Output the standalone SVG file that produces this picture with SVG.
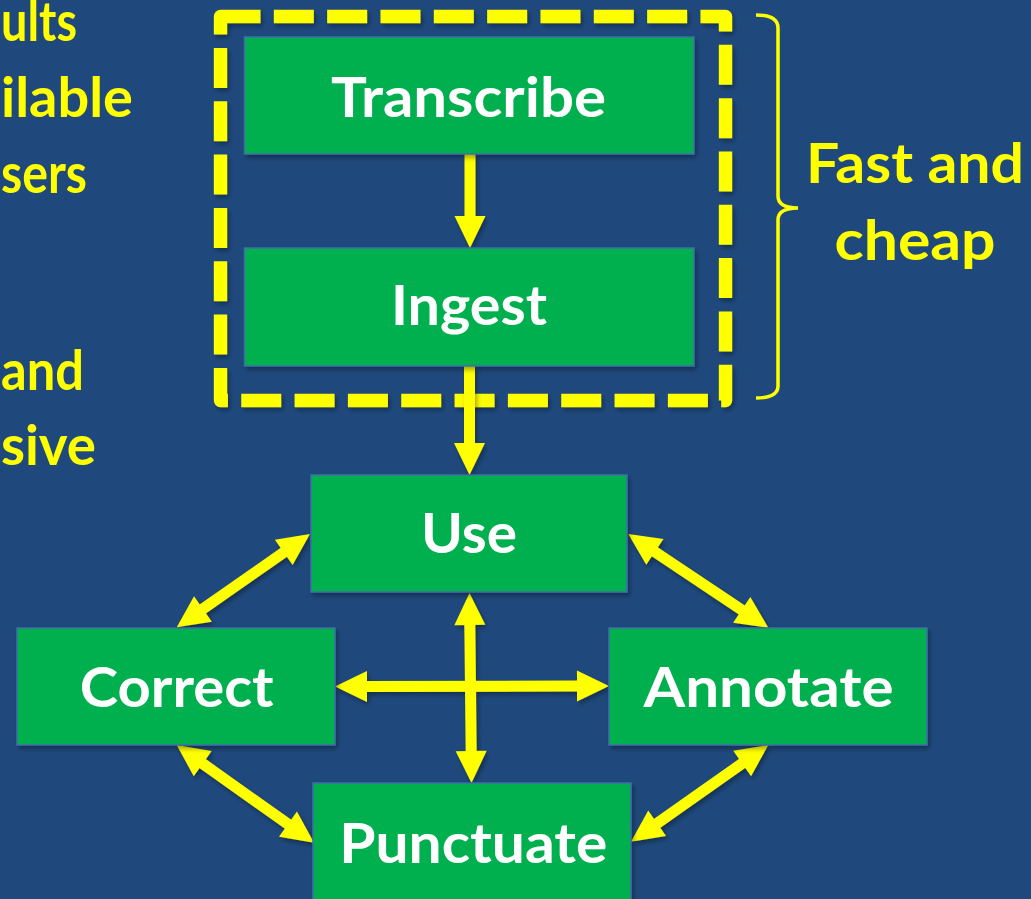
<svg xmlns="http://www.w3.org/2000/svg" width="1031" height="899" viewBox="0 0 1031 899">
  <style>
    .box { fill: #00B050; stroke: #3C6FA8; stroke-width: 1.5; }
    .lbl { font-family: Lato, "Open Sans", "Liberation Sans", sans-serif; font-weight: bold; font-size: 55px; fill: #FFFFFF; text-anchor: middle; }
    .ylw { font-family: Lato, "Open Sans", "Liberation Sans", sans-serif; font-weight: bold; font-size: 55px; fill: #FFFF00; }
    .arr { stroke: #FFFF00; stroke-width: 11; fill: none; }
  </style>
  <defs>
    <filter id="sh" x="-20%" y="-20%" width="140%" height="140%">
      <feDropShadow dx="2" dy="3" stdDeviation="2.5" flood-color="#000000" flood-opacity="0.35"/>
    </filter>
    <marker id="ah" markerUnits="userSpaceOnUse" markerWidth="32" markerHeight="31" refX="2" refY="15.5" orient="auto-start-reverse" overflow="visible">
      <path d="M0,0 L32,15.5 L0,31 Z" fill="#FFFF00"/>
    </marker>
  </defs>
  <rect x="0" y="0" width="1031" height="899" fill="#1F497D"/>

  <g id="left-text">
    <text class="ylw" x="1" y="41" textLength="76" lengthAdjust="spacingAndGlyphs">ults</text>
    <text class="ylw" x="1" y="117" textLength="132" lengthAdjust="spacingAndGlyphs">ilable</text>
    <text class="ylw" x="1" y="193" textLength="86" lengthAdjust="spacingAndGlyphs">sers</text>
    <text class="ylw" x="1" y="390" textLength="83" lengthAdjust="spacingAndGlyphs">and</text>
    <text class="ylw" x="1" y="465" textLength="95" lengthAdjust="spacingAndGlyphs">sive</text>
  </g>

  <g id="frame" filter="url(#sh)">
    <path d="M220.5,16.5 H725.5 V400.5 H220.5 Z" fill="none" stroke="#FFFF00" stroke-width="13.33" stroke-dasharray="40 13.33" stroke-linejoin="round"/>
  </g>

  <g id="brace">
    <path d="M756,15 Q778,15 778,28 V196 Q778,208 798,208 Q778,208 778,220 V386 Q778,398 756,398" fill="none" stroke="#FFFF00" stroke-width="3.5"/>
    <text class="ylw" x="915" y="183" text-anchor="middle" textLength="218" lengthAdjust="spacingAndGlyphs">Fast and</text>
    <text class="ylw" x="915" y="260" text-anchor="middle" textLength="161" lengthAdjust="spacingAndGlyphs">cheap</text>
  </g>

  <g id="connectors" filter="url(#sh)">
    <line class="arr" x1="470" y1="154" x2="470" y2="218" marker-end="url(#ah)"/>
    <line class="arr" x1="469.5" y1="366" x2="469.5" y2="445" marker-end="url(#ah)"/>
    <line class="arr" x1="469.8" y1="623" x2="471.2" y2="753" marker-start="url(#ah)" marker-end="url(#ah)"/>
    <line class="arr" x1="365" y1="686.5" x2="579" y2="686" marker-start="url(#ah)" marker-end="url(#ah)"/>
    <line class="arr" x1="285.4" y1="551.2" x2="201.3" y2="610.1" marker-start="url(#ah)" marker-end="url(#ah)"/>
    <line class="arr" x1="201.1" y1="762.4" x2="289.6" y2="825.3" marker-start="url(#ah)" marker-end="url(#ah)"/>
    <line class="arr" x1="653.2" y1="550.7" x2="743.4" y2="611" marker-start="url(#ah)" marker-end="url(#ah)"/>
    <line class="arr" x1="743.8" y1="762.3" x2="655.5" y2="824.4" marker-start="url(#ah)" marker-end="url(#ah)"/>
  </g>

  <g id="transcribe">
    <rect class="box" x="244.5" y="37" width="449.5" height="117" filter="url(#sh)"/>
    <text class="lbl" x="468.5" y="117" textLength="275" lengthAdjust="spacingAndGlyphs">Transcribe</text>
  </g>
  <g id="ingest">
    <rect class="box" x="244.5" y="248" width="449.5" height="118" filter="url(#sh)"/>
    <text class="lbl" x="469" y="325" textLength="156" lengthAdjust="spacingAndGlyphs">Ingest</text>
  </g>
  <g id="use">
    <rect class="box" x="311" y="475" width="316" height="117" filter="url(#sh)"/>
    <text class="lbl" x="469" y="553" textLength="96" lengthAdjust="spacingAndGlyphs">Use</text>
  </g>
  <g id="correct">
    <rect class="box" x="17" y="628" width="318" height="117" filter="url(#sh)"/>
    <text class="lbl" x="176.7" y="707" textLength="194" lengthAdjust="spacingAndGlyphs">Correct</text>
  </g>
  <g id="annotate">
    <rect class="box" x="609" y="628" width="318" height="117" filter="url(#sh)"/>
    <text class="lbl" x="768.5" y="707" textLength="250" lengthAdjust="spacingAndGlyphs">Annotate</text>
  </g>
  <g id="punctuate">
    <rect class="box" x="313" y="783" width="318" height="130" filter="url(#sh)"/>
    <text class="lbl" x="473.3" y="863" textLength="268" lengthAdjust="spacingAndGlyphs">Punctuate</text>
  </g>
</svg>
